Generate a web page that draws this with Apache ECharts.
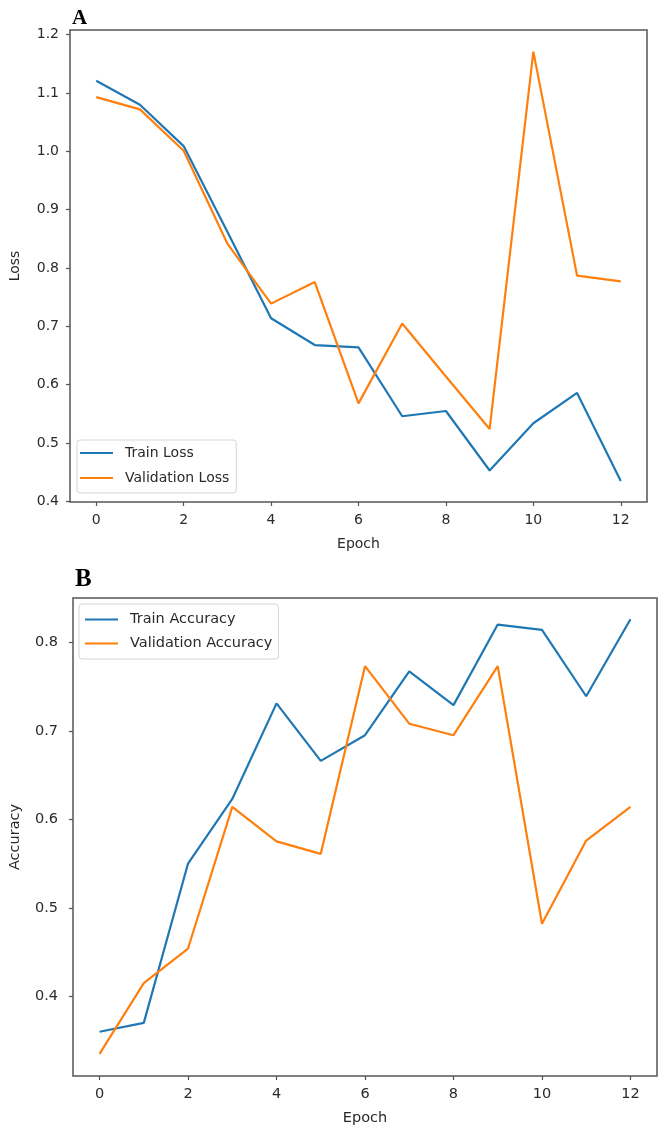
<!DOCTYPE html>
<html>
<head>
<meta charset="utf-8">
<script src="https://cdn.jsdelivr.net/npm/echarts@6/dist/echarts.min.js"></script>
<style>
html,body{margin:0;padding:0;background:#fff;}
#c{width:664px;height:1128px;}
</style>
</head>
<body>
<div id="c"></div>
<script>
const epochs = [0,1,2,3,4,5,6,7,8,9,10,11,12];
const trainLoss = [1.121,1.080,1.009,0.862,0.714,0.668,0.664,0.546,0.555,0.453,0.534,0.586,0.435];
const valLoss   = [1.093,1.072,1.001,0.842,0.739,0.776,0.568,0.705,0.614,0.524,1.171,0.787,0.777];
const trainAcc  = [0.360,0.370,0.550,0.623,0.731,0.666,0.695,0.767,0.729,0.820,0.814,0.739,0.826];
const valAcc    = [0.335,0.415,0.454,0.614,0.575,0.561,0.773,0.708,0.695,0.773,0.482,0.576,0.614];
const xTicks = [0,2,4,6,8,10,12];
const lossTicks = [0.4,0.5,0.6,0.7,0.8,0.9,1.0,1.1,1.2];
const accTicks = [0.4,0.5,0.6,0.7,0.8];

const pairs = (ys) => epochs.map((e,i)=>[e, ys[i]]);
const FONT = 'DejaVu Sans';
const TXT = '#2a2a2a';
const AX = '#555';
const BLUE = '#1f77b4', ORANGE = '#ff7f0e';
const LEG_ICON = 'path://M0,0h0.01v14h-0.01z M0,6h33v2h-33z';

function xAxis(gi, fs, gap){
  return {
    type:'value', gridIndex:gi, min:-0.6, max:12.6, position:'bottom',
    name:'Epoch', nameLocation:'middle', nameGap:gap,
    nameTextStyle:{fontFamily:FONT,fontSize:fs,color:TXT},
    splitLine:{show:false}, axisLine:{show:false, onZero:false},
    axisTick:{show:true, customValues:xTicks, length:4, inside:false, lineStyle:{color:AX,width:1.2}},
    axisLabel:{customValues:xTicks, margin:11, fontFamily:FONT, fontSize:fs, color:TXT, formatter:(v)=>String(Math.round(v))}
  };
}
function yAxis(gi, min, max, ticks, name, gap, margin, fs){
  return {
    type:'value', gridIndex:gi, min:min, max:max, position:'left',
    name:name, nameLocation:'middle', nameGap:gap, nameRotate:90,
    nameTextStyle:{fontFamily:FONT,fontSize:fs,color:TXT},
    splitLine:{show:false}, axisLine:{show:false, onZero:false},
    axisTick:{show:true, customValues:ticks, length:4, inside:false, lineStyle:{color:AX,width:1.2}},
    axisLabel:{customValues:ticks, margin:margin, fontFamily:FONT, fontSize:fs, color:TXT, formatter:(v)=>v.toFixed(1)}
  };
}
function line(name, data, color, gi){
  return {type:'line', name:name, xAxisIndex:gi, yAxisIndex:gi, data:pairs(data),
    symbol:'none', showSymbol:false, animation:false,
    lineStyle:{color:color,width:2.2}, itemStyle:{color:color}};
}

const chart = echarts.init(document.getElementById('c'), null, {renderer:'canvas'});
chart.setOption({
  backgroundColor:'#fff',
  animation:false,
  title:[
    {text:'A', left:72, top:8, padding:0, textStyle:{fontFamily:'Liberation Serif',fontWeight:'bold',fontSize:21,color:'#000'}},
    {text:'B', left:75, top:567, padding:0, textStyle:{fontFamily:'Liberation Serif',fontWeight:'bold',fontSize:25,color:'#000'}}
  ],
  grid:[
    {left:69.5, top:30, width:577.5, height:472, show:true, borderColor:AX, borderWidth:1.5, backgroundColor:'#fff'},
    {left:72, top:598, width:585, height:478, show:true, borderColor:AX, borderWidth:1.5, backgroundColor:'#fff'}
  ],
  xAxis:[xAxis(0,14,35), xAxis(1,14.5,35)],
  yAxis:[yAxis(0,0.399,1.208,lossTicks,'Loss',48,11,14), yAxis(1,0.310,0.850,accTicks,'Accuracy',50,15,14.5)],
  legend:[
    {data:['Train Loss','Validation Loss'], orient:'vertical', left:77, top:440, icon:LEG_ICON,
     itemWidth:33, itemHeight:14, itemGap:11, padding:[6,7,8,3],
     borderColor:'#d5d5d5', borderWidth:1, borderRadius:3, backgroundColor:'rgba(255,255,255,0.8)',
     textStyle:{fontFamily:FONT,fontSize:14,color:TXT,padding:[0,0,0,7]}},
    {data:['Train Accuracy','Validation Accuracy'], orient:'vertical', left:79, top:604, icon:LEG_ICON,
     itemWidth:33, itemHeight:14, itemGap:9, padding:[8,6,8,6],
     borderColor:'#d5d5d5', borderWidth:1, borderRadius:3, backgroundColor:'rgba(255,255,255,0.8)',
     textStyle:{fontFamily:FONT,fontSize:14.5,color:TXT,padding:[0,0,0,7]}}
  ],
  series:[
    line('Train Loss', trainLoss, BLUE, 0),
    line('Validation Loss', valLoss, ORANGE, 0),
    line('Train Accuracy', trainAcc, BLUE, 1),
    line('Validation Accuracy', valAcc, ORANGE, 1)
  ]
});
</script>
</body>
</html>
